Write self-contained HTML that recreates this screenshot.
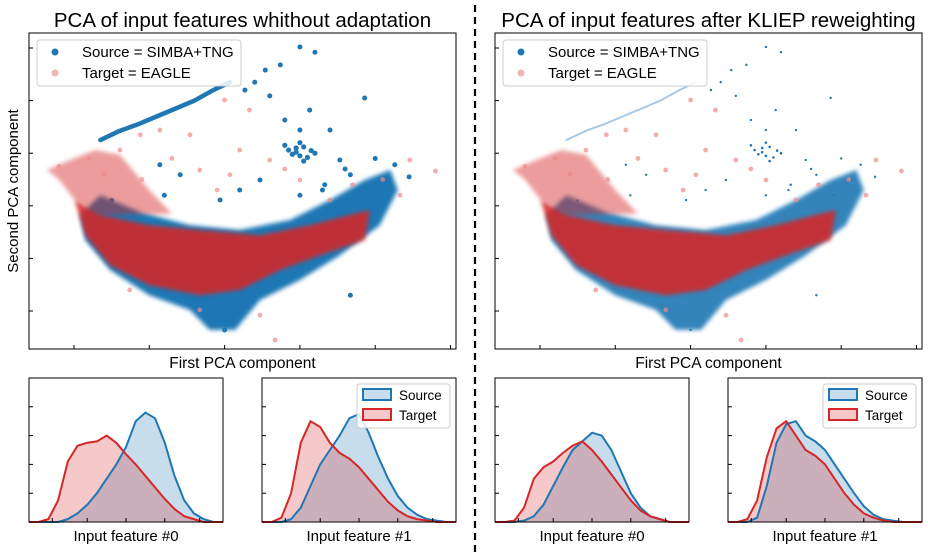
<!DOCTYPE html>
<html><head><meta charset="utf-8"><style>
body{margin:0;background:#fff;}
svg text{font-family:"Liberation Sans","DejaVu Sans",sans-serif;}
</style></head><body>
<svg id="c" width="928" height="552" xmlns="http://www.w3.org/2000/svg">
<defs><filter id="soft" x="-10%" y="-10%" width="120%" height="120%"><feGaussianBlur stdDeviation="2"/></filter></defs>
</svg>
<script>
// ---- PCA data (arbitrary PCA units) ----
const sourceEnvelopeX=[0.08,0.35,0.88,1.54,2.2,2.87,3.4,3.86,4.2,4.3,4.06,3.53,3.0,2.47,2.14,1.8,1.54,1.0,0.48,0.15];
const sourceEnvelopeY=[1.83,2.2,1.88,1.63,1.54,1.73,2.11,2.49,2.68,2.3,1.63,1.06,0.59,0.21,-0.36,-0.36,0.02,0.3,0.78,1.35];
const targetCoreX=[0.01,0.35,1.0,1.67,2.47,3.13,3.67,3.93,3.86,3.27,2.74,2.2,1.67,1.0,0.48,0.15];
const targetCoreY=[2.11,1.83,1.63,1.54,1.44,1.63,1.83,1.92,1.35,1.06,0.78,0.4,0.3,0.49,0.87,1.44];
const targetWedgeX=[-0.36,-0.05,0.28,0.61,1.0,1.3,0.35,0.01,-0.2];
const targetWedgeY=[2.68,2.87,3.06,2.97,2.3,1.85,1.83,2.11,2.5];
const streakX=[0.35,0.6,0.85,1.1,1.35,1.6,1.85,2.07];
const streakY=[3.25,3.42,3.55,3.7,3.85,4.0,4.2,4.35];
const clusterX=[2.85,2.95,3.05,3.15,3.0,2.9,3.1,3.2,2.8,3.0,3.05,2.95];
const clusterY=[3.06,3.1,3.12,3.05,2.95,2.98,2.92,3.0,3.15,3.2,2.85,3.02];
const sourceSparseX=[3.0,3.2,2.74,2.54,2.4,2.6,2.27,2.8,3.13,3.86,3.4,3.53,3.67,3.0,2.47,1.94,2.2,1.41,1.14,3.0,3.33,4.26,4.13,2.0,3.67,3.9,3.6,3.3,4.0,4.45,1.2,0.5];
const sourceSparseY=[5.02,4.92,4.68,4.58,4.35,4.09,4.2,3.63,3.82,4.05,3.44,2.87,2.59,3.44,2.49,2.11,2.3,2.59,2.78,2.2,2.4,2.78,2.49,-0.36,0.3,2.2,2.7,2.3,2.9,2.55,2.2,2.1];
const targetSparseX=[2.0,2.33,1.14,1.54,0.88,2.2,2.6,1.67,2.07,3.0,3.4,4.33,4.8,4.46,0.61,2.67,1.67,0.74,2.47,1.3,1.9,2.8,3.7,4.1,0.2,0.4,-0.2,0.9];
const targetSparseY=[4.01,3.82,3.44,3.35,3.35,3.06,2.87,2.68,2.59,2.49,2.11,2.2,2.66,2.87,3.06,-0.55,0.02,0.4,-0.08,2.9,2.3,2.7,2.4,2.5,2.9,2.6,2.75,2.5];
// ---- KDE data (x grid 0..1 step 0.05) ----
const kdeGrid=[0,0.05,0.1,0.15,0.2,0.25,0.3,0.35,0.4,0.45,0.5,0.55,0.6,0.65,0.7,0.75,0.8,0.85,0.9,0.95,1];
const f0SrcBefore=[0,0,0,0,0.02,0.06,0.12,0.2,0.3,0.4,0.52,0.7,0.76,0.72,0.55,0.32,0.15,0.06,0.02,0,0];
const f0TgtBefore=[0,0,0.02,0.15,0.42,0.53,0.55,0.56,0.6,0.55,0.47,0.4,0.32,0.24,0.16,0.09,0.04,0.02,0,0,0];
const f1SrcBefore=[0,0,0,0.02,0.1,0.25,0.4,0.5,0.6,0.72,0.75,0.62,0.45,0.3,0.18,0.1,0.05,0.02,0.01,0,0];
const f1TgtBefore=[0,0,0.03,0.2,0.55,0.7,0.66,0.55,0.48,0.44,0.38,0.3,0.22,0.14,0.08,0.04,0.02,0.01,0,0,0];
const f0SrcAfter=[0,0,0,0.01,0.04,0.12,0.25,0.38,0.5,0.56,0.62,0.6,0.5,0.35,0.2,0.1,0.04,0.02,0,0,0];
const f0TgtAfter=[0,0,0.01,0.1,0.3,0.38,0.42,0.48,0.53,0.56,0.5,0.42,0.33,0.24,0.15,0.08,0.04,0.02,0,0,0];
const f1SrcAfter=[0,0,0,0.03,0.25,0.55,0.68,0.7,0.6,0.56,0.5,0.4,0.3,0.2,0.11,0.05,0.02,0.01,0,0,0];
const f1TgtAfter=[0,0,0.02,0.15,0.45,0.65,0.7,0.6,0.5,0.46,0.4,0.3,0.2,0.12,0.06,0.03,0.01,0,0,0,0];
const pcaXTicks=[0,1,2,3,4,5];
const pcaYTicks=[0,1,2,3,4,5];

const svg=document.getElementById('c');
const NS='http://www.w3.org/2000/svg';
function mk(tag,attrs,parent){const e=document.createElementNS(NS,tag);for(const k in attrs)e.setAttribute(k,attrs[k]);(parent||svg).appendChild(e);return e;}
const BLUE='#1f77b4',RED='#d62728';

function pcaPanel(ox,title,after){
  const L=29+ox,R=456+ox,T=33,B=349;
  const sx=v=>74+ox+v*75.3, sy=v=>311-v*52.6;
  const g=mk('g',{});
  
  
  const t=mk('text',{x:(L+R)/2,y:27,'text-anchor':'middle','font-size':20.5},g);t.textContent=title;
  
  const poly=(xs,ys,fill,op)=>mk('polygon',{points:xs.map((x,i)=>sx(x)+','+sy(ys[i])).join(' '),fill:fill,opacity:op,filter:'url(#soft)'},g);
  const dots=(xs,ys,fill,op,r)=>xs.forEach((x,i)=>{const c=mk('circle',{cx:sx(x),cy:sy(ys[i]),r:r,fill:fill,opacity:op},g);});
  const bp=poly(sourceEnvelopeX,sourceEnvelopeY,BLUE,after?0.9:1);
  
  const st=mk('polyline',{points:streakX.map((x,i)=>sx(x)+','+sy(streakY[i])).join(' '),fill:'none',stroke:after?'#a9c9e2':BLUE,'stroke-width':after?2:4.5,'stroke-linecap':'round'},g);
  
  dots(clusterX,clusterY,BLUE,1,after?1.3:2.6);
  dots(sourceSparseX,sourceSparseY,BLUE,1,after?1.2:2.5);
  const wp=poly(targetWedgeX,targetWedgeY,RED,0.45);
  
  const rp=poly(targetCoreX,targetCoreY,RED,0.88);
  
  dots(targetSparseX,targetSparseY,'#f08a8a',0.7,2.4);
  mk('rect',{x:L,y:T,width:R-L,height:B-T,fill:'none',stroke:'#000','stroke-width':1},g);
  pcaXTicks.forEach(v=>mk('line',{x1:sx(v),x2:sx(v),y1:B,y2:B-4,stroke:'#000'},g));
  pcaYTicks.forEach(v=>mk('line',{x1:L,x2:L+4,y1:sy(v),y2:sy(v),stroke:'#000'},g));
  const xl=mk('text',{x:(L+R)/2,y:368,'text-anchor':'middle','font-size':15.5},g);xl.textContent='First PCA component';
  
  const lg=mk('g',{},g);
  mk('rect',{x:L+8,y:40,width:204,height:46,rx:3,fill:'#fff','fill-opacity':0.85,stroke:'#ccc'},lg);
  mk('circle',{cx:L+26,cy:52,r:3.5,fill:BLUE},lg);
  mk('circle',{cx:L+26,cy:73,r:3.5,fill:RED,opacity:0.35},lg);
  const a=mk('text',{x:L+53,y:57,'font-size':15},lg);a.textContent='Source = SIMBA+TNG';
  const b=mk('text',{x:L+53,y:78,'font-size':15},lg);b.textContent='Target = EAGLE';
}
pcaPanel(0,'PCA of input features whithout adaptation',false);
pcaPanel(466,'PCA of input features after KLIEP reweighting',true);
const yl=mk('text',{x:18,y:191,'text-anchor':'middle','font-size':15,transform:'rotate(-90 18 191)'});
yl.textContent='Second PCA component';


function kdePanel(L,src,tgt,label,legend){
  const R=L+194,T=378,B=522;
  const sx=v=>L+v*194, sy=v=>B-v*144;
  const g=mk('g',{});
  
  const path=arr=>'M'+kdeGrid.map((x,i)=>sx(x)+','+sy(arr[i])).join(' L');
  const area=arr=>path(arr)+' L'+sx(1)+','+B+' L'+sx(0)+','+B+' Z';
  const sa=mk('path',{d:area(src),fill:BLUE,'fill-opacity':0.25},g);
  
  const ta=mk('path',{d:area(tgt),fill:RED,'fill-opacity':0.25},g);
  
  const sl=mk('path',{d:path(src),fill:'none',stroke:BLUE,'stroke-width':2,'stroke-linejoin':'round'},g);
  
  const tl=mk('path',{d:path(tgt),fill:'none',stroke:RED,'stroke-width':2,'stroke-linejoin':'round'},g);
  
  mk('rect',{x:L,y:T,width:194,height:144,fill:'none',stroke:'#000'},g);
  [0.2,0.4,0.6,0.8].forEach(v=>mk('line',{x1:L,x2:L+4,y1:sy(v),y2:sy(v),stroke:'#000'},g));
  [0.12,0.3,0.5,0.7,0.88].forEach(v=>mk('line',{x1:sx(v),x2:sx(v),y1:B,y2:B-4,stroke:'#000'},g));
  const xt=mk('text',{x:L+97,y:541,'text-anchor':'middle','font-size':15},g);xt.textContent=label;
  
  if(legend){
    const lg=mk('g',{},g);
    mk('rect',{x:R-99,y:384,width:93,height:44,rx:3,fill:'#fff','fill-opacity':0.85,stroke:'#ccc'},lg);
    mk('rect',{x:R-93,y:389,width:28,height:11,fill:BLUE,'fill-opacity':0.25,stroke:BLUE,'stroke-width':2},lg);
    mk('rect',{x:R-93,y:409,width:28,height:11,fill:RED,'fill-opacity':0.25,stroke:RED,'stroke-width':2},lg);
    const a=mk('text',{x:R-57,y:400,'font-size':13.5},lg);a.textContent='Source';
    const b=mk('text',{x:R-57,y:420,'font-size':13.5},lg);b.textContent='Target';
  }
}
kdePanel(29,f0SrcBefore,f0TgtBefore,'Input feature #0',false);
kdePanel(262,f1SrcBefore,f1TgtBefore,'Input feature #1',true);
kdePanel(495,f0SrcAfter,f0TgtAfter,'Input feature #0',false);
kdePanel(728,f1SrcAfter,f1TgtAfter,'Input feature #1',true);
const d=mk('line',{x1:475,x2:475,y1:5,y2:552,stroke:'#000','stroke-width':2.2,'stroke-dasharray':'7,5'});

</script>
</body></html>
